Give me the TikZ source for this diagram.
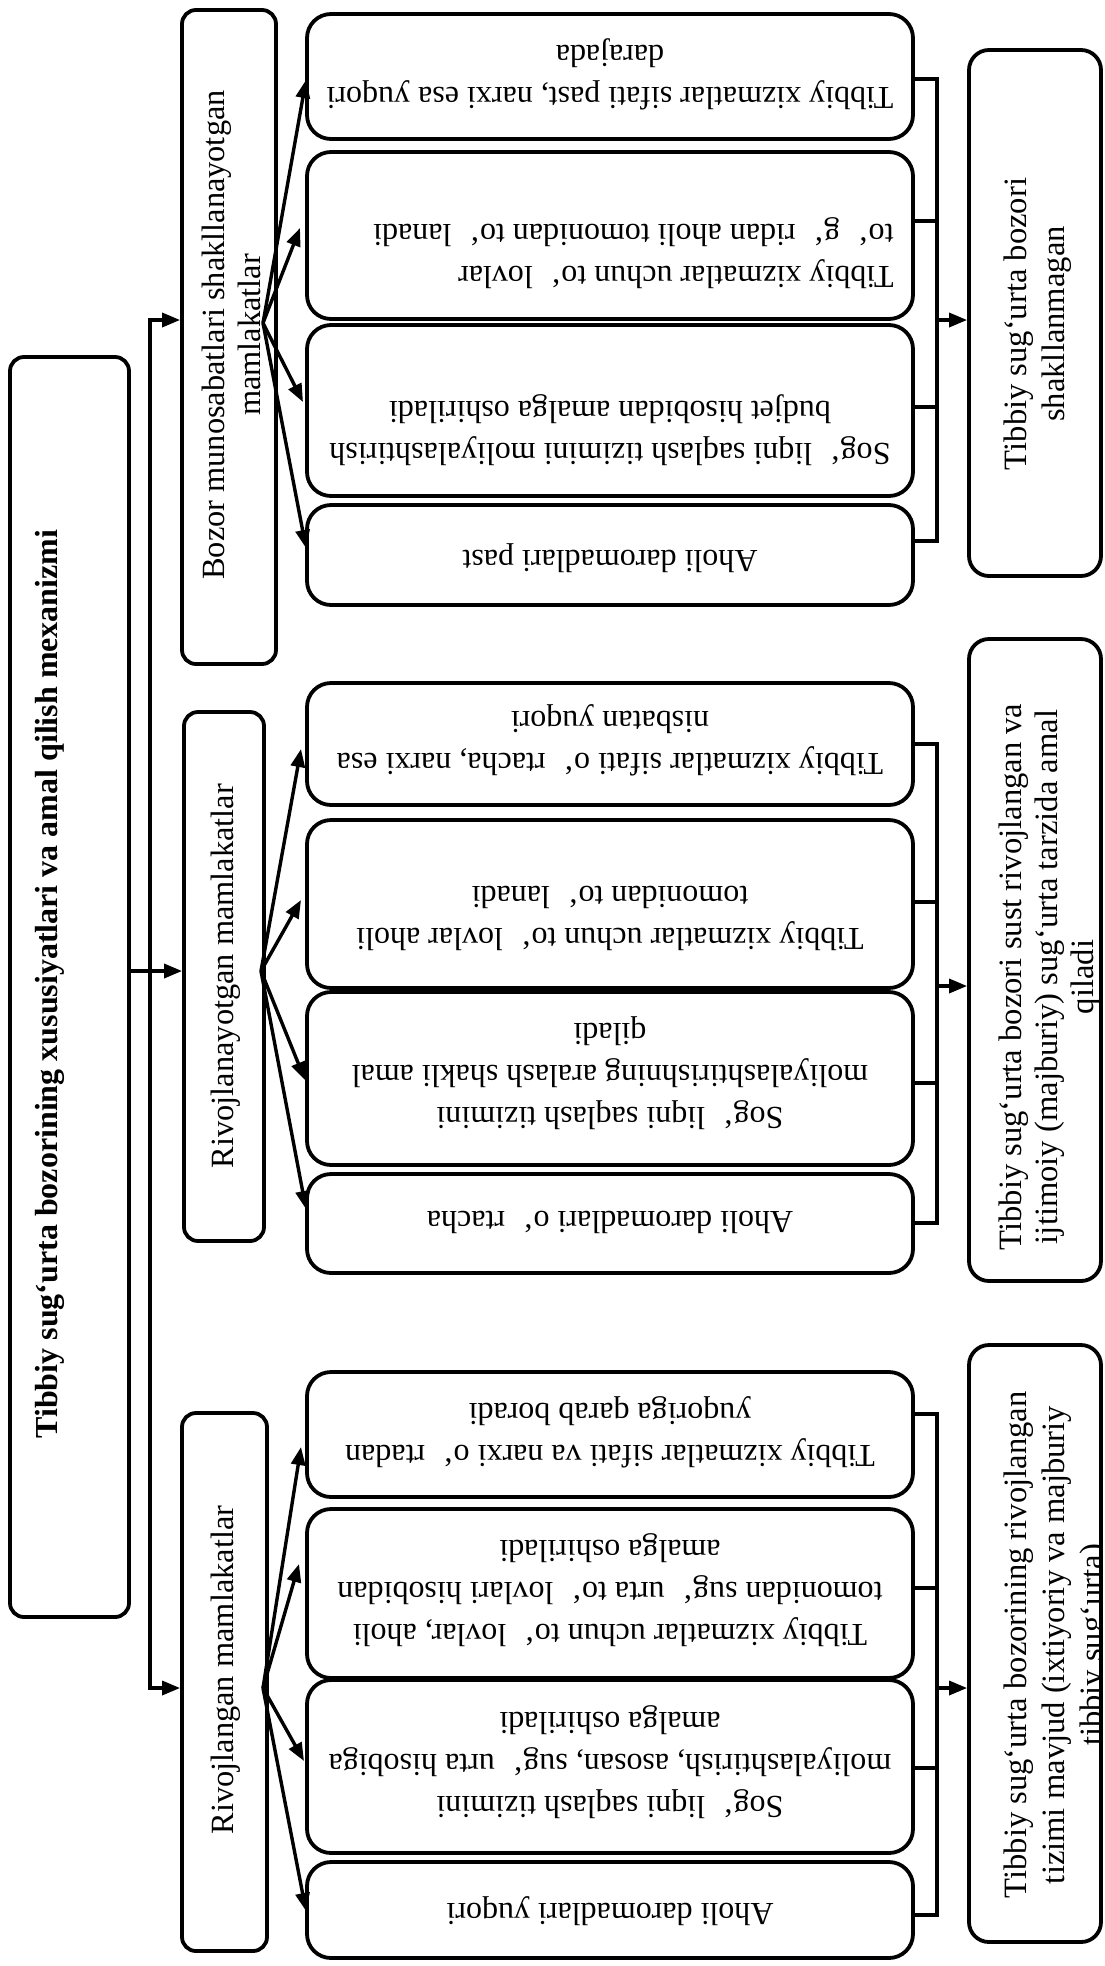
\documentclass[tikz,border=0pt]{standalone}
\usepackage{fontspec}
\setmainfont{Liberation Serif}
\usetikzlibrary{arrows.meta,fit}
\newcommand{\gapx}{\hspace{0.31em}}
\begin{document}
\begin{tikzpicture}[x=0.5pt,y=-0.5pt,
  sbox/.style={draw, line width=1.9pt, inner sep=0pt, rounded corners=7pt},
  mbox/.style={draw, line width=1.9pt, inner sep=0pt, rounded corners=12pt},
  rbox/.style={draw, line width=1.9pt, inner sep=0pt, rounded corners=10pt},
  mtext/.style={rotate=180, align=center, inner sep=0pt, font=\fontsize{16}{21}\selectfont},
  vtext/.style={rotate=90, align=center, inner sep=0pt, font=\fontsize{16.2}{18}\selectfont},
  rtext/.style={rotate=90, align=center, inner sep=0pt, anchor=north, font=\fontsize{16.3}{19}\selectfont},
  ln/.style={line width=1.7pt},
  ar/.style={line width=1.7pt, -{Triangle[length=9pt,width=7pt]}}
]
\useasboundingbox (0,0) rectangle (1104,1966);

% main box
\node[sbox, fit={(10,357) (129,1617)}] (main) {};
\node[rotate=90, inner sep=0pt, font=\fontsize{16}{18}\selectfont\bfseries] (mt) at (50,984)
  {Tibbiy sug‘urta bozorining xususiyatlari va amal qilish mexanizmi};

% level 2
\node[sbox, fit={(182,10) (276,664)}] (bz) {};
\node[sbox, fit={(184,712) (264,1241)}] (rn) {};
\node[sbox, fit={(182,1413) (267,1951)}] (rd) {};
\node[vtext] (bzt) at (231,335) {Bozor munosabatlari shakllanayotgan\\mamlakatlar};
\node[vtext] (rnt) at (226,976) {Rivojlanayotgan mamlakatlar};
\node[vtext] (rdt) at (226,1670) {Rivojlangan mamlakatlar};

% middle boxes group 1
\node[mbox, fit={(307,14) (913,139)}] (g1a) {};
\node[mbox, fit={(307,152) (913,319)}] (g1b) {};
\node[mbox, fit={(307,325) (913,496)}] (g1c) {};
\node[mbox, fit={(307,505) (913,605)}] (g1d) {};
% group 2
\node[mbox, fit={(307,683) (913,805)}] (g2a) {};
\node[mbox, fit={(307,820) (913,988)}] (g2b) {};
\node[mbox, fit={(307,992) (913,1165)}] (g2c) {};
\node[mbox, fit={(307,1174) (913,1273)}] (g2d) {};
% group 3
\node[mbox, fit={(307,1372) (913,1497)}] (g3a) {};
\node[mbox, fit={(307,1509) (913,1678)}] (g3b) {};
\node[mbox, fit={(307,1680) (913,1853)}] (g3c) {};
\node[mbox, fit={(307,1862) (913,1958)}] (g3d) {};

\node[mtext] (g1at) at (610,74) {Tibbiy xizmatlar sifati past, narxi esa yuqori\\darajada};
\node[mtext, align=left, anchor=west] (g1bt) at (894,253) {Tibbiy xizmatlar uchun to‘\gapx{} lovlar\\to‘\gapx{} g‘\gapx{} ridan aholi tomonidan to‘\gapx{} lanadi};
\node[mtext] (g1ct) at (610,430) {Sog‘\gapx{} liqni saqlash tizimini moliyalashtirish\\budjet hisobidan amalga oshiriladi};
\node[mtext] (g1dt) at (610,558) {Aholi daromadlari past};

\node[mtext] (g2at) at (610,740) {Tibbiy xizmatlar sifati o‘\gapx{} rtacha, narxi esa\\nisbatan yuqori};
\node[mtext] (g2bt) at (610,918) {Tibbiy xizmatlar uchun to‘\gapx{} lovlar aholi\\tomonidan to‘\gapx{} lanadi};
\node[mtext] (g2ct) at (610,1073) {Sog‘\gapx{} liqni saqlash tizimini\\moliyalashtirishning aralash shakli amal\\qiladi};
\node[mtext] (g2dt) at (610,1222) {Aholi daromadlari o‘\gapx{} rtacha};

\node[mtext] (g3at) at (610,1432) {Tibbiy xizmatlar sifati va narxi o‘\gapx{} rtadan\\yuqoriga qarab boradi};
\node[mtext] (g3bt) at (610,1590) {Tibbiy xizmatlar uchun to‘\gapx{} lovlar, aholi\\tomonidan sug‘\gapx{} urta to‘\gapx{} lovlari hisobidan\\amalga oshiriladi};
\node[mtext] (g3ct) at (610,1762) {Sog‘\gapx{} liqni saqlash tizimini\\moliyalashtirish, asosan, sug‘\gapx{} urta hisobiga\\amalga oshiriladi};
\node[mtext] (g3dt) at (610,1911) {Aholi daromadlari yuqori};

% right boxes
\node[rbox, fit={(969,50) (1101,576)}] (r1) {};
\node[rbox, fit={(969,639) (1101,1281)}] (r2) {};
\node[rbox, fit={(969,1345) (1101,1942)}] (r3) {};
\begin{scope}
\clip[rounded corners=10pt] (969,50) rectangle (1099,576);
\node[rtext] (r1t) at (1003,324) {Tibbiy sug‘urta bozori\\shakllanmagan};
\end{scope}
\begin{scope}
\clip[rounded corners=10pt] (969,639) rectangle (1099,1281);
\node[rtext, font=\fontsize{16.3}{18}\selectfont] (r2t) at (998,977) {Tibbiy sug‘urta bozori sust rivojlangan va\\ijtimoiy (majburiy) sug‘urta tarzida amal\\qiladi};
\end{scope}
\begin{scope}
\clip[rounded corners=10pt] (969,1345) rectangle (1099,1942);
\node[rtext] (r3t) at (1003,1645) {Tibbiy sug‘urta bozorining rivojlangan\\tizimi mavjud (ixtiyoriy va majburiy\\tibbiy sug‘urta)};
\end{scope}

% trunk
\coordinate (jt) at (150,320);
\coordinate (jm) at (150,971);
\coordinate (jb) at (150,1688);
\coordinate (mo) at (129,971);
\draw[ar] (mo) -- (rn.west |- mo);
\draw[ar] (jm) -- (jt) -- (bz.west |- jt);
\draw[ar] (jm) -- (jb) -- (rd.west |- jb);

% fans
\coordinate (bzA) at (263,323);
\coordinate (rnA) at (261,971);
\coordinate (rdA) at (263,1688);
\coordinate (t11) at (306,80);
\coordinate (t12) at (300,228);
\coordinate (t13) at (303,402);
\coordinate (t14) at (306,548);
\coordinate (t21) at (301,749);
\coordinate (t22) at (301,900);
\coordinate (t23) at (305,1080);
\coordinate (t24) at (306,1209);
\coordinate (t31) at (301,1447);
\coordinate (t32) at (299,1564);
\coordinate (t33) at (304,1761);
\coordinate (t34) at (306,1911);
\foreach \t in {t11,t12,t13,t14} \draw[ar] (bzA) -- (\t);
\foreach \t in {t21,t22,t23,t24} \draw[ar] (rnA) -- (\t);
\foreach \t in {t31,t32,t33,t34} \draw[ar] (rdA) -- (\t);

% right buses
\coordinate (s11) at (937,79);
\coordinate (s12) at (937,221);
\coordinate (s13) at (937,407);
\coordinate (s14) at (937,541);
\coordinate (o1) at (937,320);
\draw[ln] (g1a.east |- s11) -- (s11) -- (s14) -- (g1d.east |- s14);
\draw[ln] (g1b.east |- s12) -- (s12);
\draw[ln] (g1c.east |- s13) -- (s13);
\draw[ar] (o1) -- (r1.west |- o1);

\coordinate (s21) at (937,744);
\coordinate (s22) at (937,902);
\coordinate (s23) at (937,1083);
\coordinate (s24) at (937,1223);
\coordinate (o2) at (937,986);
\draw[ln] (g2a.east |- s21) -- (s21) -- (s24) -- (g2d.east |- s24);
\draw[ln] (g2b.east |- s22) -- (s22);
\draw[ln] (g2c.east |- s23) -- (s23);
\draw[ar] (o2) -- (r2.west |- o2);

\coordinate (s31) at (937,1414);
\coordinate (s32) at (937,1588);
\coordinate (s33) at (937,1768);
\coordinate (s34) at (937,1915);
\coordinate (o3) at (937,1688);
\draw[ln] (g3a.east |- s31) -- (s31) -- (s34) -- (g3d.east |- s34);
\draw[ln] (g3b.east |- s32) -- (s32);
\draw[ln] (g3c.east |- s33) -- (s33);
\draw[ar] (o3) -- (r3.west |- o3);
\end{tikzpicture}
\end{document}
